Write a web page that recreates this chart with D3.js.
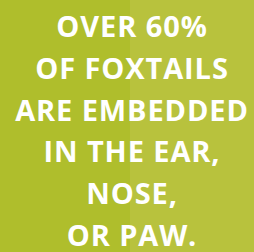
<!DOCTYPE html>
<html>
<head>
<meta charset="utf-8">
<script src="https://cdn.jsdelivr.net/npm/d3@7"></script>
<style>
  html, body { margin: 0; padding: 0; background: #b0be2c; }
  svg { display: block; }
</style>
</head>
<body>
<div id="chart"></div>
<script>
// text lines of the callout, top to bottom
const lines = ["OVER 60%", "OF FOXTAILS", "ARE EMBEDDED", "IN THE EAR,", "NOSE,", "OR PAW."];
// two background panels
const panels = ["left", "right"];
const panelColors = ["#afbe2c", "#b8c23d"];

const width = 254, height = 252;

const svg = d3.select("#chart")
  .append("svg")
  .attr("width", width)
  .attr("height", height);

const x = d3.scaleBand().domain(panels).range([0, 260]).paddingInner(0);
const y = d3.scalePoint().domain(lines).range([37, 246]);

svg.selectAll(".panel")
  .data(panels)
  .enter()
  .append("rect")
  .attr("class", "panel")
  .attr("x", d => x(d))
  .attr("y", 0)
  .attr("width", x.bandwidth())
  .attr("height", height)
  .attr("fill", (d, i) => panelColors[i]);

svg.selectAll(".line")
  .data(lines)
  .enter()
  .append("text")
  .attr("class", "line")
  .attr("x", 132)
  .attr("y", d => y(d))
  .attr("text-anchor", "middle")
  .attr("fill", "#ffffff")
  .attr("font-family", "'Open Sans', sans-serif")
  .attr("font-weight", 700)
  .attr("font-size", 29)
  .attr("letter-spacing", 0.9)
  .text(d => d);
</script>
</body>
</html>
